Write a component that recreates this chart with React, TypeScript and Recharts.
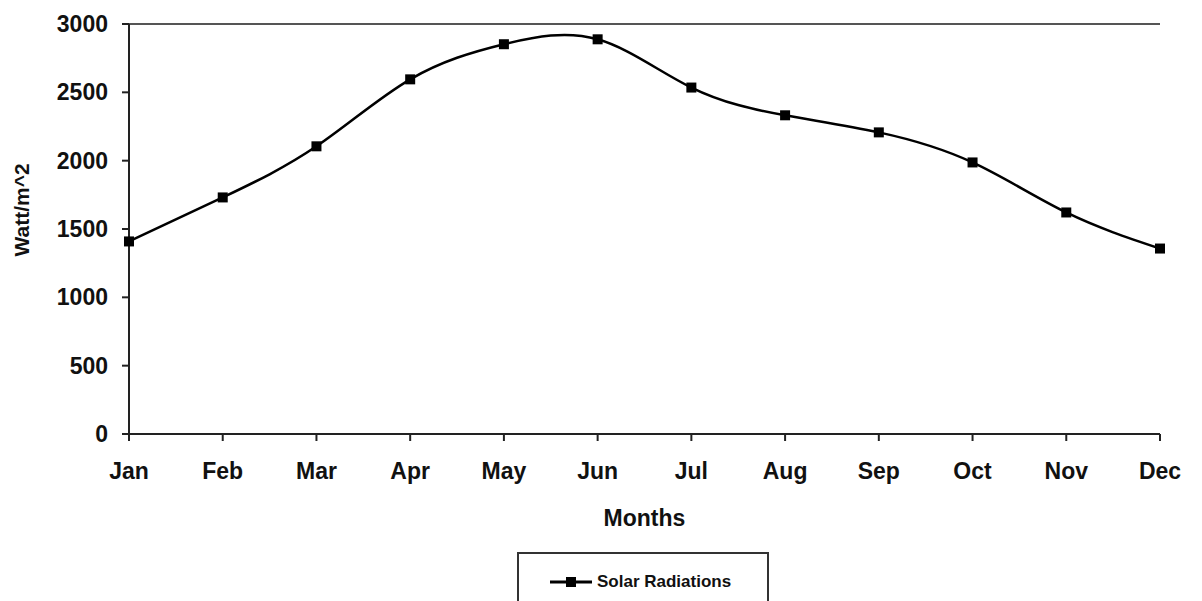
import { LineChart, Line, XAxis, YAxis, CartesianGrid, Legend, Label } from "recharts";

const months = ["Jan", "Feb", "Mar", "Apr", "May", "Jun", "Jul", "Aug", "Sep", "Oct", "Nov", "Dec"];
const solarRadiation = [1409, 1731, 2105, 2595, 2852, 2888, 2535, 2332, 2207, 1987, 1621, 1357];
const yTicks = [0, 500, 1000, 1500, 2000, 2500, 3000];

const data = months.map((m, i) => ({ month: m, solar: solarRadiation[i] }));

const FONT = "'Liberation Sans', Arial, sans-serif";

const SquareDot = (props: any) => {
  const { cx, cy } = props;
  if (cx == null || cy == null) return null;
  return <rect x={cx - 5} y={cy - 5} width={10} height={10} fill="#000" />;
};

const LegendBox = () => (
  <div
    style={{
      width: 252,
      height: 49,
      borderTop: "2px solid #333",
      borderLeft: "2px solid #333",
      borderRight: "2px solid #333",
      display: "flex",
      alignItems: "center",
      paddingLeft: 31,
      paddingTop: 9,
      boxSizing: "border-box",
      fontFamily: FONT,
      fontWeight: "bold",
      fontSize: 17,
      color: "#111",
    }}
  >
    <svg width={42} height={12} style={{ marginRight: 5 }}>
      <line x1={0} y1={6} x2={42} y2={6} stroke="#000" strokeWidth={3} />
      <rect x={16} y={1} width={10} height={10} fill="#000" />
    </svg>
    Solar Radiations
  </div>
);

export default function App() {
  return (
    <div style={{ position: "absolute", left: 0, top: 0 }}>
      <LineChart
        width={1202}
        height={601}
        data={data}
        margin={{ top: 24, right: 42, left: 0, bottom: 0 }}
      >
        <CartesianGrid horizontal vertical={false} stroke="#555" strokeWidth={2} />
        <XAxis
          dataKey="month"
          axisLine={{ stroke: "#222", strokeWidth: 2 }}
          tickLine={{ stroke: "#222", strokeWidth: 2 }}
          tickSize={7}
          tickMargin={22}
          height={118}
          tick={{ fill: "#111", fontFamily: FONT, fontWeight: "bold", fontSize: 23 }}
          interval={0}
        >
          <Label
            value="Months"
            position="insideTop"
            offset={76}
            style={{ fill: "#111", fontFamily: FONT, fontWeight: "bold", fontSize: 23 }}
          />
        </XAxis>
        <YAxis
          yAxisId="left"
          domain={[0, 3000]}
          ticks={yTicks}
          width={129}
          axisLine={{ stroke: "#222", strokeWidth: 2 }}
          tickLine={{ stroke: "#222", strokeWidth: 2 }}
          tickSize={7}
          tickMargin={14}
          tick={{ fill: "#111", fontFamily: FONT, fontWeight: "bold", fontSize: 23 }}
        >
          <Label
            value="Watt/m^2"
            angle={-90}
            position="insideLeft"
            offset={22}
            dy={-19}
            style={{ fill: "#111", fontFamily: FONT, fontWeight: "bold", fontSize: 21, textAnchor: "middle" }}
          />
        </YAxis>
        <YAxis
          yAxisId="right"
          orientation="right"
          domain={[0, 3000]}
          width={0}
          tick={false}
          tickLine={false}
          axisLine={{ stroke: "#555", strokeWidth: 2 }}
        />
        <Legend
          verticalAlign="bottom"
          content={() => <LegendBox />}
          wrapperStyle={{ left: 517, bottom: 0, width: 252 }}
        />
        <Line
          yAxisId="left"
          type="natural"
          dataKey="solar"
          name="Solar Radiations"
          stroke="#000"
          strokeWidth={2.5}
          dot={<SquareDot />}
          activeDot={false}
          isAnimationActive={false}
        />
      </LineChart>
    </div>
  );
}
